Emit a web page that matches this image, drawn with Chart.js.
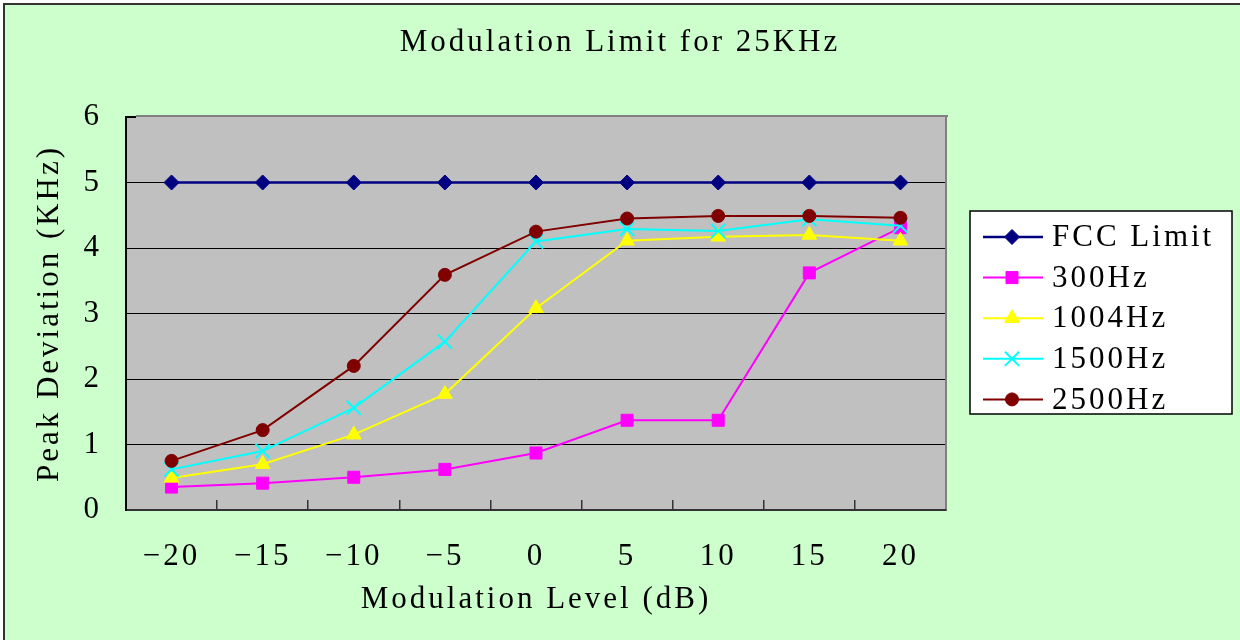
<!DOCTYPE html>
<html><head><meta charset="utf-8">
<script src="https://cdn.jsdelivr.net/npm/chart.js@4/dist/chart.umd.min.js"></script>
<style>html,body{margin:0;padding:0;background:#fff;}#wrap{width:1240px;height:640px;}</style>
</head><body><div id="wrap"><canvas id="c" width="1240" height="640"></canvas></div>
<script>
const categories = ['\u221220','\u221215','\u221210','\u22125','0','5','10','15','20'];
const seriesNames = ['FCC Limit','300Hz','1004Hz','1500Hz','2500Hz'];
const fccLimit = [5,5,5,5,5,5,5,5,5];
const hz300  = [0.35,0.41,0.50,0.62,0.87,1.37,1.37,3.62,4.31];
const hz1004 = [0.49,0.70,1.15,1.77,3.08,4.11,4.17,4.20,4.11];
const hz1500 = [0.62,0.90,1.56,2.57,4.10,4.29,4.26,4.44,4.34];
const hz2500 = [0.75,1.22,2.20,3.59,4.25,4.45,4.49,4.49,4.46];
const yTicks = [0,1,2,3,4,5,6];

const FONT = 'Liberation Serif';
const FS = 31;
const SPACING = '3px';

function mk(label, data, color, style, radius, lw, order, pbw){
  return {label, data, borderColor: color, backgroundColor: color,
    pointBackgroundColor: color, pointBorderColor: color,
    pointStyle: style, pointRadius: radius, pointHoverRadius: radius,
    pointBorderWidth: pbw, borderWidth: lw, tension: 0, order, yAxisID: 'y'};
}
const datasets = [
  mk(seriesNames[0], fccLimit, '#000080', 'rectRot', 7.5, 2.5, 4, 1),
  mk(seriesNames[1], hz300, '#FF00FF', 'rect', 8.5, 2, 3, 1),
  mk(seriesNames[2], hz1004, '#FFFF00', 'triangle', 8.5, 2, 2, 1),
  mk(seriesNames[3], hz1500, '#00FFFF', 'crossRot', 10, 2, 1, 2),
  mk(seriesNames[4], hz2500, '#800000', 'circle', 6.5, 2, 0, 1)
];

const frame = {
  id: 'frame',
  beforeLayout(chart){ chart.ctx.letterSpacing = SPACING; },
  beforeDraw(chart){
    const c = chart.ctx, W = chart.width, H = chart.height, a = chart.chartArea;
    c.save();
    c.fillStyle = '#fff'; c.fillRect(0,0,W,H);
    c.fillStyle = '#CCFFCC'; c.fillRect(4,4,W-4,H-4);
    c.fillStyle = '#333'; c.fillRect(3,3,W-3,2); c.fillRect(3,3,2,H-3);
    c.fillStyle = '#C0C0C0'; c.fillRect(a.left,a.top,a.right-a.left,a.bottom-a.top);
    c.restore();
    c.letterSpacing = SPACING;
  },
  beforeDatasetsDraw(chart){
    const c = chart.ctx, a = chart.chartArea;
    c.save();
    c.fillStyle = '#808080';
    c.fillRect(a.left+10, a.top-2, a.right-a.left-8, 2);
    c.fillRect(a.right-1, a.top-2, 2, a.bottom-a.top+1);
    c.fillStyle = '#000';
    c.fillRect(a.left, a.top-1, 10, 1.5);
    c.restore();
  },
  afterDraw(chart){
    const c = chart.ctx;
    c.save();
    const lx = 970, ly = 211, lw = 262, lh = 203;
    c.fillStyle = '#fff'; c.fillRect(lx, ly, lw, lh);
    c.strokeStyle = '#000'; c.lineWidth = 1.5; c.strokeRect(lx, ly, lw, lh);
    chart.data.datasets.forEach((ds, i) => {
      const y = 237 + i * 40.6;
      c.strokeStyle = ds.borderColor; c.lineWidth = ds.borderWidth;
      c.beginPath(); c.moveTo(983, y); c.lineTo(1043, y); c.stroke();
      c.fillStyle = ds.pointBackgroundColor; c.strokeStyle = ds.pointBorderColor;
      c.lineWidth = ds.pointBorderWidth;
      Chart.helpers.drawPoint(c, {pointStyle: ds.pointStyle, radius: ds.pointRadius, borderWidth: ds.pointBorderWidth, rotation: 0}, 1012, y);
      c.fillStyle = '#000';
      c.font = FS + 'px "' + FONT + '"';
      c.letterSpacing = SPACING;
      c.textBaseline = 'middle'; c.textAlign = 'left';
      c.fillText(ds.label, 1052, y + 1);
    });
    c.restore();
  }
};

new Chart(document.getElementById('c'), {
  type: 'line',
  data: { labels: categories, datasets },
  plugins: [frame],
  options: {
    responsive: false, animation: false, events: [],
    devicePixelRatio: 1,
    layout: { padding: 0 },
    plugins: {
      legend: { display: false },
      tooltip: { enabled: false },
      title: { display: true, text: 'Modulation Limit for 25KHz', color: '#000',
        font: { family: FONT, size: FS, weight: 'normal' },
        padding: { top: 24.4, bottom: 55.4 } }
    },
    scales: {
      x: {
        offset: true,
        grid: { offset: true, drawOnChartArea: false, drawTicks: true, tickLength: -10, tickColor: '#333', lineWidth: 1.5 },
        border: { display: true, color: '#333', width: 2 },
        ticks: { color: '#000', font: { family: FONT, size: FS }, padding: 38, maxRotation: 0, autoSkip: false },
        title: { display: true, text: 'Modulation Level (dB)', color: '#000', font: { family: FONT, size: FS }, padding: { top: 0, bottom: 21.4 } },
        afterFit(s){ s.height = 130; }
      },
      y: {
        min: 0, max: 6,
        afterBuildTicks(s){ s.ticks = yTicks.map(v => ({value: v})); },
        grid: { color: c => (c.tick && c.tick.value === 6) ? 'rgba(0,0,0,0)' : '#000', tickColor: '#000', tickLength: -10, lineWidth: 1 },
        border: { display: true, color: '#000', width: 2 },
        ticks: { color: '#000', font: { family: FONT, size: FS }, padding: 34 },
        title: { display: true, text: 'Peak Deviation (KHz)', color: '#000', font: { family: FONT, size: FS }, padding: { top: 31.4, bottom: 0 } },
        afterFit(s){ s.width = 126; }
      },
      legendSpace: {
        type: 'linear', position: 'right', display: true,
        grid: { drawOnChartArea: false, drawTicks: false },
        border: { display: false },
        ticks: { display: false },
        afterFit(s){ s.width = 294; }
      }
    }
  }
});
</script></body></html>
